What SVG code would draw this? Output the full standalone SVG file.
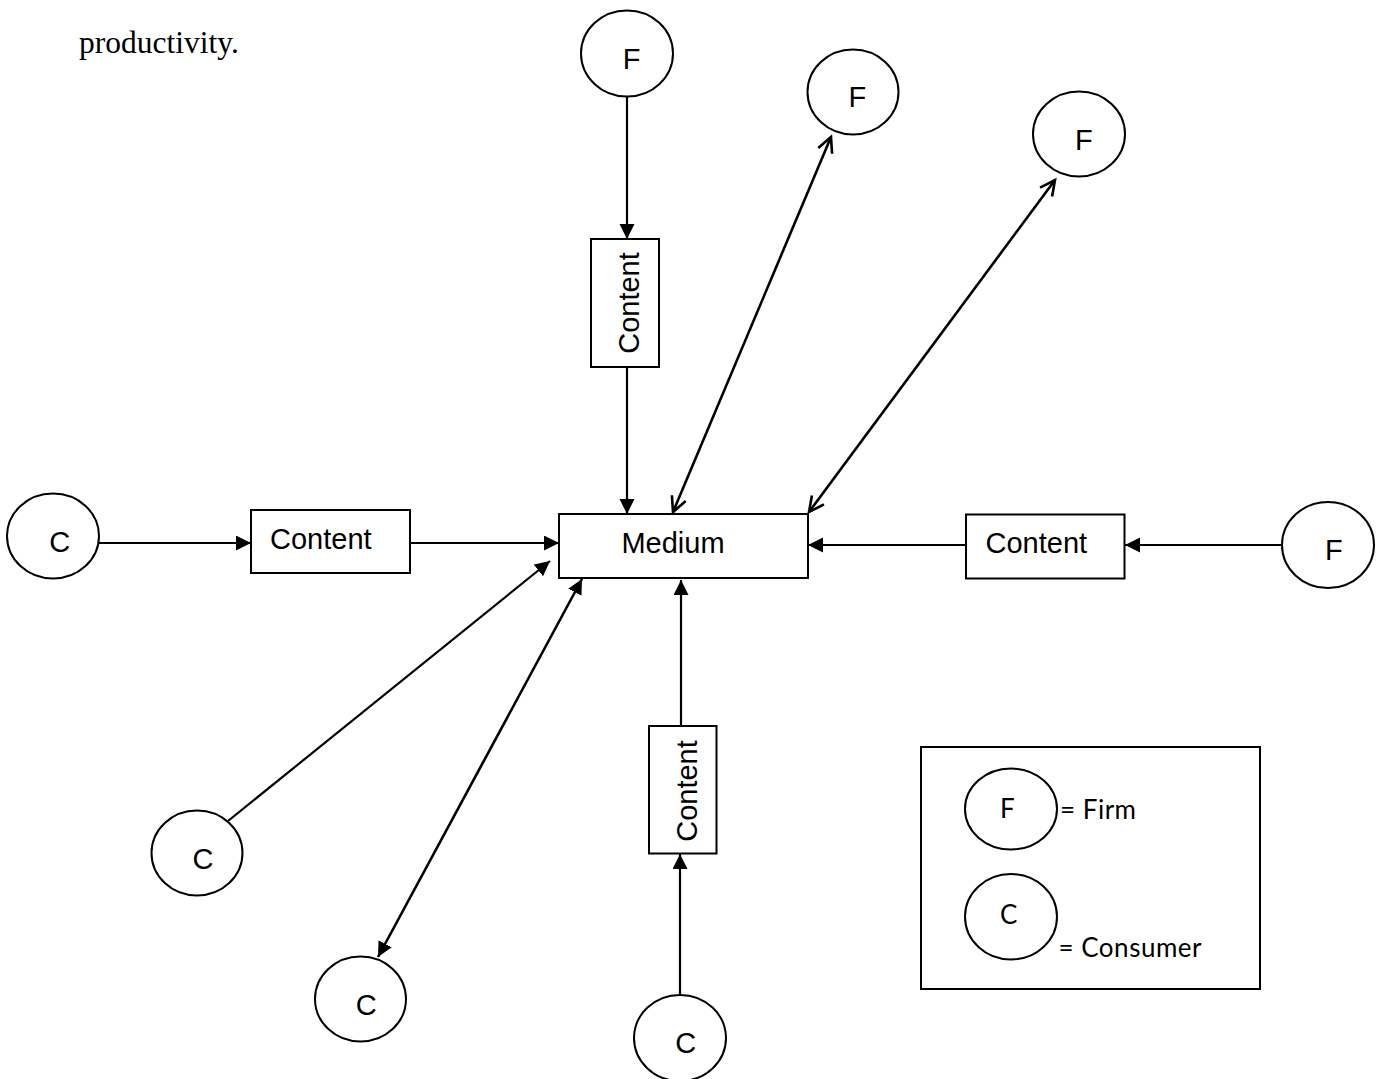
<svg xmlns="http://www.w3.org/2000/svg" width="1377" height="1079" viewBox="0 0 1377 1079">
  <style>
    .node { fill: #fff; stroke: #000; stroke-width: 2; }
    .lbl { font-family: "Liberation Sans", Arial, sans-serif; font-size: 29px; fill: #000; }
    .key { font-family: Lato, "Open Sans", sans-serif; font-size: 26px; fill: #000; }
    .body { font-family: "Liberation Serif", "Times New Roman", serif; font-size: 31.5px; fill: #000; }
    .edge { stroke: #000; stroke-width: 2.2; fill: none; }
    .thin { stroke-width: 1.8; }
    .bold { stroke-width: 2.6; }
    .solid { marker-end: url(#tri); }
    .both-solid { marker-start: url(#tri); marker-end: url(#tri); }
    .both-open { marker-start: url(#vee); marker-end: url(#vee); }
  </style>
  <defs>
    <marker id="tri" markerUnits="userSpaceOnUse" markerWidth="16" markerHeight="16" refX="15" refY="7.5" orient="auto-start-reverse">
      <path d="M0,0 L15,7.5 L0,15 z" fill="#000"/>
    </marker>
    <marker id="vee" markerUnits="userSpaceOnUse" markerWidth="20" markerHeight="20" refX="16" refY="9" orient="auto-start-reverse">
      <path d="M1,1.5 L16,9 L1,16.5" fill="none" stroke="#000" stroke-width="2.6"/>
    </marker>
  </defs>

  <rect width="1377" height="1079" fill="#fff"/>

  <text class="body" x="79" y="53">productivity.</text>

  <!-- connectors -->
  <g id="connectors">
    <line class="edge solid" x1="627" y1="96" x2="627" y2="239"/>
    <line class="edge solid" x1="627" y1="367" x2="627" y2="514"/>
    <line class="edge bold both-open" x1="673" y1="512" x2="831" y2="137"/>
    <line class="edge bold both-open" x1="809" y1="512" x2="1055" y2="180"/>
    <line class="edge thin solid" x1="99" y1="543" x2="251" y2="543"/>
    <line class="edge thin solid" x1="408" y1="543" x2="559" y2="543"/>
    <line class="edge solid" x1="1281" y1="545" x2="1125" y2="545"/>
    <line class="edge thin solid" x1="966" y1="545" x2="808" y2="545"/>
    <line class="edge solid" x1="228" y1="821" x2="550" y2="561"/>
    <line class="edge bold both-solid" x1="378" y1="957" x2="582" y2="579"/>
    <line class="edge solid" x1="681" y1="726" x2="681" y2="580"/>
    <line class="edge solid" x1="680" y1="995" x2="680" y2="854"/>
  </g>

  <!-- central medium -->
  <g id="medium">
    <rect class="node" x="559" y="514" width="249" height="64"/>
    <text class="lbl" x="673" y="553" text-anchor="middle" font-size="28">Medium</text>
  </g>

  <!-- content boxes -->
  <g id="content-top">
    <rect class="node" x="591" y="239" width="68" height="128"/>
    <text class="lbl" transform="translate(639,303) rotate(-90)" text-anchor="middle">Content</text>
  </g>
  <g id="content-left">
    <rect class="node" x="251" y="510" width="159" height="63"/>
    <text class="lbl" x="270" y="548.5">Content</text>
  </g>
  <g id="content-right">
    <rect class="node" x="966" y="514.5" width="158.5" height="64"/>
    <text class="lbl" x="985.5" y="553">Content</text>
  </g>
  <g id="content-bottom">
    <rect class="node" x="649" y="726" width="67.5" height="127.5"/>
    <text class="lbl" transform="translate(697,791) rotate(-90)" text-anchor="middle">Content</text>
  </g>

  <!-- firms -->
  <g id="firm-1">
    <ellipse class="node" cx="627" cy="53.5" rx="46" ry="43"/>
    <text class="lbl" x="622.7" y="69">F</text>
  </g>
  <g id="firm-2">
    <ellipse class="node" cx="853" cy="92" rx="45.5" ry="42.5"/>
    <text class="lbl" x="848.4" y="106.7">F</text>
  </g>
  <g id="firm-3">
    <ellipse class="node" cx="1079" cy="134" rx="46" ry="42.5"/>
    <text class="lbl" x="1075" y="150">F</text>
  </g>
  <g id="firm-4">
    <ellipse class="node" cx="1328" cy="545" rx="46" ry="43"/>
    <text class="lbl" x="1325" y="560">F</text>
  </g>

  <!-- consumers -->
  <g id="consumer-1">
    <ellipse class="node" cx="53" cy="536" rx="46" ry="42.5"/>
    <text class="lbl" x="49.2" y="552">C</text>
  </g>
  <g id="consumer-2">
    <ellipse class="node" cx="197" cy="853" rx="45.5" ry="42.5"/>
    <text class="lbl" x="192.5" y="869">C</text>
  </g>
  <g id="consumer-3">
    <ellipse class="node" cx="360.5" cy="999" rx="45.5" ry="42.5"/>
    <text class="lbl" x="355.8" y="1015">C</text>
  </g>
  <g id="consumer-4">
    <ellipse class="node" cx="680" cy="1038" rx="46" ry="43"/>
    <text class="lbl" x="675.2" y="1052.7">C</text>
  </g>

  <!-- key -->
  <g id="legend">
    <rect class="node" x="921" y="747" width="339" height="242"/>
    <ellipse class="node" cx="1011" cy="809" rx="46" ry="40.5"/>
    <text class="key" x="1000" y="818">F</text>
    <text class="key" x="1060" y="819" textLength="76" lengthAdjust="spacing">= Firm</text>
    <ellipse class="node" cx="1011" cy="916.7" rx="46" ry="42.7"/>
    <text class="key" x="1000" y="924">C</text>
    <text class="key" x="1058.5" y="957" textLength="143" lengthAdjust="spacing">= Consumer</text>
  </g>
</svg>
